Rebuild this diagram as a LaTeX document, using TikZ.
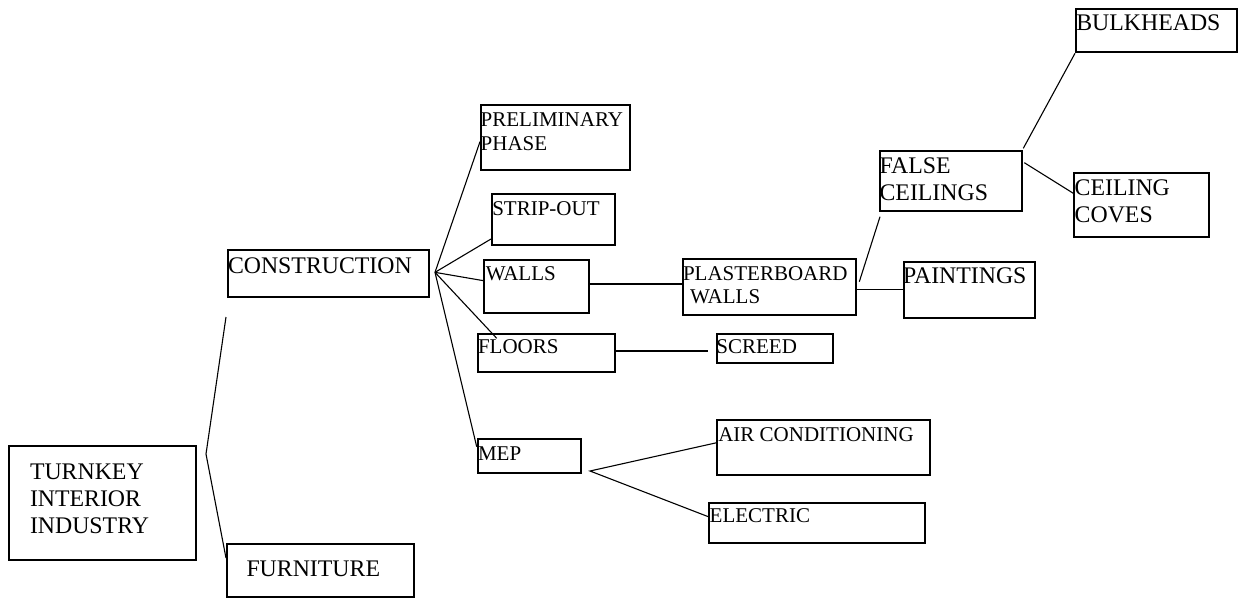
\documentclass[tikz,border=0pt]{standalone}
\usepackage{fontspec}
\setmainfont{Liberation Serif}
\usetikzlibrary{calc}

\tikzset{
  box/.style={draw, line width=1.7pt, anchor=north west, inner sep=0pt, outer sep=0pt},
  bigtext/.style={font=\fontsize{23.8}{27}\selectfont, anchor=base west, inner sep=0pt, outer sep=0pt},
  smalltext/.style={font=\fontsize{21}{23.7}\selectfont, anchor=base west, inner sep=0pt, outer sep=0pt},
  conn/.style={line width=1.1pt}
}

\begin{document}
\begin{tikzpicture}[x=1pt, y=-1pt]
\useasboundingbox (0,0) rectangle (1238,599);

% ---- boxes ----
\node[box, minimum width=187pt, minimum height=113.7pt] (turnkey) at (9.3,446) {};
\node[box, minimum width=187pt, minimum height=52.4pt]  (furn)    at (227,544.3) {};
\node[box, minimum width=201.3pt, minimum height=46.7pt] (constr) at (227.7,250) {};
\node[box, minimum width=148.7pt, minimum height=64.7pt] (prelim) at (481,105.3) {};
\node[box, minimum width=122.7pt, minimum height=50.4pt] (strip)  at (492,194.3) {};
\node[box, minimum width=104.7pt, minimum height=53.3pt] (walls)  at (484.3,260) {};
\node[box, minimum width=172.4pt, minimum height=55.4pt] (plaster) at (683.3,259.3) {};
\node[box, minimum width=137pt, minimum height=38pt]     (floors) at (477.7,333.7) {};
\node[box, minimum width=116.6pt, minimum height=29.3pt] (screed) at (716.7,333.7) {};
\node[box, minimum width=103.6pt, minimum height=34pt]   (mep)    at (477.7,439.3) {};
\node[box, minimum width=213pt, minimum height=54.4pt]   (aircon) at (716.7,420.3) {};
\node[box, minimum width=215.4pt, minimum height=40.6pt] (elec)   at (709.3,502.7) {};
\node[box, minimum width=160.7pt, minimum height=42.4pt] (bulk)   at (1076,9.3) {};
\node[box, minimum width=142.3pt, minimum height=59.7pt] (false)  at (880,151) {};
\node[box, minimum width=135.3pt, minimum height=63.4pt] (coves)  at (1073.7,173.3) {};
\node[box, minimum width=131.3pt, minimum height=56.6pt] (paint)  at (903.7,261.7) {};

% ---- texts ----
\node[bigtext] (turnkey-t) at (30,479.3) {\vtop{\hbox{TURNKEY}\hbox{INTERIOR}\hbox{INDUSTRY}}};
\node[bigtext] (furn-t)    at (246.5,576.7) {FURNITURE};
\node[bigtext] (constr-t)  at (228,273.3) {CONSTRUCTION};
\node[smalltext] (prelim-t) at (480.7,126.7) {\vtop{\hbox{PRELIMINARY}\hbox{PHASE}}};
\node[smalltext] (strip-t)  at (492.3,215) {STRIP-OUT};
\node[smalltext] (walls-t)  at (485.8,280) {WALLS};
\node[smalltext] (plaster-t) at (683,280) {\vtop{\hbox{PLASTERBOARD}\hbox{\hspace*{7.2pt}WALLS}}};
\node[smalltext] (floors-t) at (478,353.3) {FLOORS};
\node[smalltext] (screed-t) at (716.4,353.3) {SCREED};
\node[smalltext] (mep-t)    at (478,460) {MEP};
\node[smalltext] (aircon-t) at (718.3,441) {AIR CONDITIONING};
\node[smalltext] (elec-t)   at (709.7,522.7) {ELECTRIC};
\node[bigtext] (bulk-t)    at (1076.3,30.7) {BULKHEADS};
\node[bigtext] (false-t)   at (879.6,173.3) {\vtop{\hbox{FALSE}\hbox{CEILINGS}}};
\node[bigtext] (coves-t)   at (1074.7,195) {\vtop{\hbox{CEILING}\hbox{COVES}}};
\node[bigtext] (paint-t)   at (903,283.3) {PAINTINGS};

% ---- connectors ----
\coordinate (bend) at (206,454);
\draw[conn] ([xshift=-1.7pt,yshift=-20.3pt]constr.south west) -- (bend)
            -- ([xshift=-1pt,yshift=12.5pt]furn.west);

\coordinate (hub) at ([xshift=6pt,yshift=1pt]constr.east);
\draw[conn] (hub) -- ([xshift=-1pt,yshift=-4pt]prelim.west);
\draw[conn] (hub) -- ([xshift=-1pt,yshift=5.7pt]strip.south west);
\draw[conn] (hub) -- ([xshift=-1pt,yshift=6pt]walls.west);
\draw[conn] (hub) -- ([xshift=19pt,yshift=-4.6pt]floors.north west);
\draw[conn] (hub) -- ([xshift=-1pt,yshift=-7.4pt]mep.north west);

\draw[conn] ([yshift=2.7pt]walls.east) -- ([yshift=2.7pt]walls.east -| plaster.west);
\draw[conn] ([yshift=1.7pt]floors.east) -- ([xshift=-8.4pt,yshift=1.7pt]floors.east -| screed.west);

\draw[conn] ([xshift=3.6pt,yshift=5.3pt]plaster.east) -- ([yshift=-6pt]false.south west);
\draw[conn] ([yshift=-2.3pt]plaster.east) -- ([yshift=-2.3pt]plaster.east -| paint.west);

\draw[conn] ([xshift=1pt,yshift=2.7pt]false.north east) -- ([xshift=-1pt,yshift=-1.6pt]bulk.south west);
\draw[conn] ([xshift=2pt,yshift=-11.7pt]false.north east) -- ([xshift=-0.4pt,yshift=-20pt]coves.north west);

\coordinate (fork) at ([xshift=8.7pt,yshift=2.3pt]mep.south east);
\draw[conn] (aircon.north west |- 0,442.7) -- (fork) -- ([xshift=-1pt,yshift=-14pt]elec.north west);
\end{tikzpicture}
\end{document}
